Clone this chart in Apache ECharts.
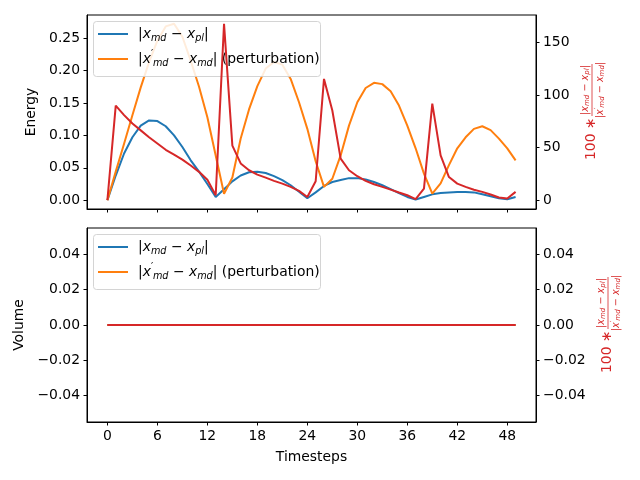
<!DOCTYPE html>
<html>
<head>
<meta charset="utf-8">
<script src="https://cdn.jsdelivr.net/npm/echarts@6/dist/echarts.min.js"></script>
<style>
  html, body { margin: 0; padding: 0; background: #fff; }
  #chart { width: 640px; height: 480px; }
</style>
</head>
<body>
<div id="chart"></div>
<script>
// timesteps 0..49
const steps = [0, 1, 2, 3, 4, 5, 6, 7, 8, 9, 10, 11, 12, 13, 14, 15, 16, 17, 18, 19,
  20, 21, 22, 23, 24, 25, 26, 27, 28, 29, 30, 31, 32, 33, 34, 35, 36, 37, 38, 39,
  40, 41, 42, 43, 44, 45, 46, 47, 48, 49];

// top panel: energy
const energyDiff = [0, 0.038, 0.072, 0.097, 0.115, 0.123, 0.122, 0.114, 0.100, 0.082,
  0.0615, 0.044, 0.025, 0.005, 0.017, 0.029, 0.038, 0.043, 0.044, 0.042,
  0.037, 0.031, 0.023, 0.013, 0.003, 0.012, 0.022, 0.028, 0.031, 0.034,
  0.034, 0.032, 0.028, 0.023, 0.017, 0.011, 0.005, 0.001, 0.005, 0.009,
  0.011, 0.012, 0.0125, 0.0125, 0.012, 0.009, 0.006, 0.003, 0.0015, 0.005];
const energyPert = [0, 0.044, 0.087, 0.131, 0.174, 0.213, 0.246, 0.268, 0.272, 0.252,
  0.215, 0.175, 0.128, 0.069, 0.010, 0.035, 0.095, 0.140, 0.176, 0.203,
  0.213, 0.209, 0.187, 0.151, 0.110, 0.060, 0.0205, 0.033, 0.069, 0.115,
  0.151, 0.173, 0.181, 0.179, 0.168, 0.146, 0.115, 0.080, 0.041, 0.010,
  0.026, 0.054, 0.080, 0.097, 0.110, 0.114, 0.108, 0.095, 0.080, 0.0615];
const energyRatio = [0, 90, 81, 73, 66.5, 60, 54, 48, 43.3, 38.6,
  33, 27, 19.5, 4.7, 168, 52, 35, 28.5, 24.4, 21.5,
  18.4, 15.8, 12.7, 8.9, 3, 18, 115.5, 85.4, 39.6, 28.5,
  22.8, 18.4, 15.2, 12.7, 10.1, 7.3, 4.7, 1, 11, 92,
  42.7, 22, 15.8, 12.7, 10, 7.9, 5.4, 2.5, 1.6, 7.9];

// bottom panel: volume
const volumeDiff = [0, 0, 0, 0, 0, 0, 0, 0, 0, 0, 0, 0, 0, 0, 0, 0, 0, 0, 0, 0, 0, 0, 0, 0, 0,
  0, 0, 0, 0, 0, 0, 0, 0, 0, 0, 0, 0, 0, 0, 0, 0, 0, 0, 0, 0, 0, 0, 0, 0, 0];
const volumePert = [0, 0, 0, 0, 0, 0, 0, 0, 0, 0, 0, 0, 0, 0, 0, 0, 0, 0, 0, 0, 0, 0, 0, 0, 0,
  0, 0, 0, 0, 0, 0, 0, 0, 0, 0, 0, 0, 0, 0, 0, 0, 0, 0, 0, 0, 0, 0, 0, 0, 0];
const volumeRatio = [0, 0, 0, 0, 0, 0, 0, 0, 0, 0, 0, 0, 0, 0, 0, 0, 0, 0, 0, 0, 0, 0, 0, 0, 0,
  0, 0, 0, 0, 0, 0, 0, 0, 0, 0, 0, 0, 0, 0, 0, 0, 0, 0, 0, 0, 0, 0, 0, 0, 0];

// tick labels
const xTicks = [0, 6, 12, 18, 24, 30, 36, 42, 48];
const energyTicks = [0, 0.05, 0.1, 0.15, 0.2, 0.25];
const ratioTicks = [0, 50, 100, 150];
const volumeTicks = [-0.04, -0.02, 0, 0.02, 0.04];

const BLUE = '#1f77b4';
const ORANGE = '#ff7f0e';
const RED = '#d62728';
const FONT = 'DejaVu Sans';

const tickFont = { fontFamily: FONT, fontSize: 13.9, color: '#000' };
const fmt2 = v => v.toFixed(2).replace('-', '\u2212');
const pairs = values => values.map((v, i) => [steps[i], v]);

const legendRich = {
  n: { fontFamily: FONT, fontSize: 13.9, lineHeight: 19, color: '#000' },
  i: { fontFamily: FONT, fontStyle: 'italic', fontSize: 13.9, lineHeight: 19, color: '#000' },
  s: { fontFamily: FONT, fontStyle: 'italic', fontSize: 9.7, lineHeight: 10, verticalAlign: 'bottom', color: '#000' },
  p: { fontFamily: FONT, fontSize: 9.7, lineHeight: 10, verticalAlign: 'top', width: 2, color: '#000' }
};
const legendLabels = {
  diff: '{n||}{i|x}{s|md}{n| \u2212 }{i|x}{s|pl}{n||}',
  pert: '{n||}{i|x}{p|\u2032}{s|md}{n| \u2212 }{i|x}{s|md}{n|| (perturbation)}'
};

const fracRich = {
  n: { fontFamily: FONT, fontSize: 9.7, lineHeight: 12, fill: RED },
  i: { fontFamily: FONT, fontStyle: 'italic', fontSize: 9.7, lineHeight: 12, fill: RED },
  s: { fontFamily: FONT, fontStyle: 'italic', fontSize: 7, lineHeight: 7, verticalAlign: 'bottom', fill: RED },
  p: { fontFamily: FONT, fontSize: 7, lineHeight: 7, verticalAlign: 'top', width: 1.5, fill: RED }
};

// stacking: blue/orange < legend frame < legend items < red twin-axis line
function makeLegend(top) {
  return {
    data: ['diff', 'pert'],
    orient: 'vertical',
    left: 93,
    top: top,
    z: 40,
    padding: [6, 8, 6, 5],
    itemGap: 6,
    itemWidth: 30,
    itemHeight: 2,
    icon: 'rect',
    backgroundColor: 'transparent',
    borderWidth: 0,
    selectedMode: false,
    formatter: name => legendLabels[name],
    textStyle: { rich: legendRich, padding: [0, 0, 0, 5] }
  };
}

// frame behind each legend (matplotlib draws it 80% white over the curves)
function legendFrame(top) {
  return {
    type: 'rect',
    z: 30,
    silent: true,
    shape: { x: 93.5, y: top + 0.5, width: 227, height: 55, r: 3 },
    style: { fill: '#ffffff', stroke: '#cccccc', lineWidth: 1, opacity: 0.85 }
  };
}

function ratioLabel(x, y) {
  return {
    type: 'group',
    x: x,
    y: y,
    rotation: Math.PI / 2,
    silent: true,
    children: [
      { type: 'text', x: 0, y: -1, style: { text: '100 \u2217', fill: RED, font: '13.9px "DejaVu Sans"', align: 'left', verticalAlign: 'middle' } },
      { type: 'line', shape: { x1: 44, y1: 0, x2: 96, y2: 0 }, style: { stroke: RED, lineWidth: 0.8 } },
      { type: 'text', x: 70, y: -7, style: { text: legendLabels.diff, rich: fracRich, align: 'center', verticalAlign: 'middle' } },
      { type: 'text', x: 70, y: 8, style: { text: '{n||}{i|x}{p|\u2032}{s|md}{n| \u2212 }{i|x}{s|md}{n||}', rich: fracRich, align: 'center', verticalAlign: 'middle' } }
    ]
  };
}

function yAxis(grid, pos, min, max, ticks, fmt, extra) {
  return Object.assign({
    type: 'value',
    gridIndex: grid,
    position: pos,
    min: min,
    max: max,
    axisLine: { show: true, onZero: false, lineStyle: { color: '#000', width: 1 } },
    axisTick: { show: true, length: 3.5, customValues: ticks, lineStyle: { color: '#000' } },
    axisLabel: Object.assign({ customValues: ticks, formatter: fmt, margin: 7 }, tickFont),
    splitLine: { show: false }
  }, extra || {});
}

function xAxis(grid, showLabels, extra) {
  return Object.assign({
    type: 'value',
    gridIndex: grid,
    min: -2.45,
    max: 51.45,
    axisLine: { show: true, onZero: false, lineStyle: { color: '#000', width: 1 } },
    axisTick: { show: true, length: 3.5, customValues: xTicks, lineStyle: { color: '#000' } },
    axisLabel: Object.assign({ show: showLabels, customValues: xTicks, margin: 7 }, tickFont),
    splitLine: { show: false }
  }, extra || {});
}

function lineSeries(name, color, xi, yi, data, z) {
  return {
    name: name,
    type: 'line',
    xAxisIndex: xi,
    yAxisIndex: yi,
    data: pairs(data),
    symbol: 'none',
    color: color,
    lineStyle: { color: color, width: 2 },
    z: z,
    silent: true
  };
}

const chart = echarts.init(document.getElementById('chart'));
chart.setOption({
  animation: false,
  backgroundColor: '#fff',
  grid: [
    { left: 87, top: 15, width: 449, height: 194, show: true, borderColor: '#000', borderWidth: 1 },
    { left: 87, top: 228, width: 449, height: 194, show: true, borderColor: '#000', borderWidth: 1 }
  ],
  legend: [makeLegend(21), makeLegend(234)],
  xAxis: [
    xAxis(0, false),
    xAxis(1, true, { name: 'Timesteps', nameLocation: 'middle', nameGap: 28, nameTextStyle: tickFont })
  ],
  yAxis: [
    yAxis(0, 'left', -0.0136, 0.2856, energyTicks, fmt2,
      { name: 'Energy', nameLocation: 'middle', nameGap: 43, nameRotate: 90, nameTextStyle: tickFont }),
    yAxis(0, 'right', -8.4, 176.4, ratioTicks, v => String(v)),
    yAxis(1, 'left', -0.055, 0.055, volumeTicks, fmt2,
      { name: 'Volume', nameLocation: 'middle', nameGap: 56, nameRotate: 90, nameTextStyle: tickFont }),
    yAxis(1, 'right', -0.055, 0.055, volumeTicks, fmt2)
  ],
  graphic: [legendFrame(21), legendFrame(234), ratioLabel(592, 160), ratioLabel(608, 373)],
  series: [
    lineSeries('diff', BLUE, 0, 0, energyDiff, 2),
    lineSeries('pert', ORANGE, 0, 0, energyPert, 2),
    lineSeries('ratio', RED, 0, 1, energyRatio, 50),
    lineSeries('diff', BLUE, 1, 2, volumeDiff, 2),
    lineSeries('pert', ORANGE, 1, 2, volumePert, 2),
    lineSeries('ratio', RED, 1, 3, volumeRatio, 50)
  ]
});
</script>
</body>
</html>
